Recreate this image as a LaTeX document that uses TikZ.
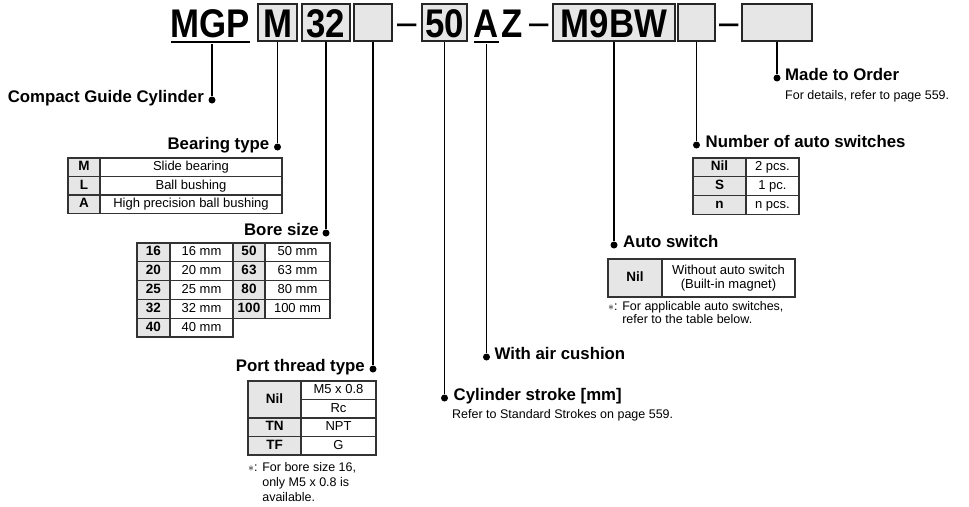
\documentclass[tikz,border=0pt]{standalone}
\usepackage{fontspec}
\setmainfont{Liberation Sans}
\newfontfamily\titlefont[FakeStretch=0.87]{Liberation Sans Bold}
\newfontfamily\dashfont[FakeStretch=0.87]{Liberation Sans}
\definecolor{cellgray}{HTML}{E6E6E6}
\tikzset{
  code/.style={font=\titlefont\fontsize{40}{40}\selectfont, inner sep=0pt, minimum height=37, text height=29, text depth=0pt},
  codebox/.style={code, draw=black!85, line width=1.6, fill=cellgray},
  sepdash/.style={font=\dashfont\fontsize{40}{40}\selectfont, inner sep=0pt, minimum height=37, text height=29, text depth=0pt},
  head/.style={font=\bfseries\fontsize{16.8}{18}\selectfont, inner sep=0pt},
  note/.style={font=\fontsize{12.5}{15}\selectfont, inner sep=0pt, align=left},
  kcell/.style={draw=black!80, line width=1.2, fill=cellgray, inner sep=0pt, text height=9.5, text depth=2.5, font=\bfseries\fontsize{13.5}{15}\selectfont},
  vcell/.style={draw=black!80, line width=1.2, fill=white, inner sep=0pt, text height=9.5, text depth=2.5, font=\fontsize{13}{15}\selectfont},
  lead/.style={line width=1.5},
  tip/.style={circle, fill=black, inner sep=0pt, minimum size=7},
}
\begin{document}
\begin{tikzpicture}[x=1pt,y=-1pt]
    \useasboundingbox (0,0) rectangle (969,506);

    % model code
    \node[code] (mgp) at (210.5,22.5) {MGP};
    \node[codebox, minimum width=39] (bear) at (277.5,22.5) {M};
    \node[codebox, minimum width=48] (bore) at (326,22.5) {32};
    \node[codebox, minimum width=38] (port) at (373,22.5) {};
    \node[sepdash] (d1) at (407.5,21) {–};
    \node[codebox, minimum width=45] (stroke) at (444.5,22.5) {50};
    \node[code] (cush) at (486.5,22.5) {A};
    \node[code] (zz) at (512.5,22.5) {Z};
    \node[sepdash] (d2) at (539.5,21) {–};
    \node[codebox, minimum width=122] (sw) at (614,22.5) {M9BW};
    \node[codebox, minimum width=37] (num) at (696.5,22.5) {};
    \node[sepdash] (d3) at (729.5,21) {–};
    \node[codebox, minimum width=70] (mto) at (777,22.5) {};
    \draw[line width=1.5] ([yshift=-5]mgp.base west) -- ([yshift=-5]mgp.base east);
    \draw[line width=1.5] ([yshift=-5]cush.base west) -- ([yshift=-5]cush.base east);

    % leader dots
    \node[tip] (cgcdot) at (212,100) {};
    \node[tip] (beardot) at (bear.south |- 0,147) {};
    \node[tip] (boredot) at (bore.south |- 0,233) {};
    \node[tip] (portdot) at (port.south |- 0,369) {};
    \node[tip] (strokedot) at (stroke.south |- 0,398) {};
    \node[tip] (cushdot) at (cush.south |- 0,357) {};
    \node[tip] (swdot) at (sw.south |- 0,245) {};
    \node[tip] (numdot) at (num.south |- 0,145) {};
    \node[tip] (mtodot) at (mto.south |- 0,78) {};

    \draw[lead] (mgp.south -| cgcdot) ++(0,3) -- (cgcdot);
    \draw[lead] (bear.south) -- (beardot);
    \draw[lead] (bore.south) -- (boredot);
    \draw[lead] (port.south) -- (portdot);
    \draw[lead] (stroke.south) -- (strokedot);
    \draw[lead] (cush.south) ++(0,3) -- (cushdot);
    \draw[lead] (sw.south) -- (swdot);
    \draw[lead] (num.south) -- (numdot);
    \draw[lead] (mto.south) -- (mtodot);

    % headings
    \node[head, anchor=mid east] (cgcl) at ([xshift=-8]cgcdot.center) {Compact Guide Cylinder};
    \node[head, anchor=mid east] (bearl) at ([xshift=-8]beardot.center) {Bearing type};
    \node[head, anchor=mid east] (borel) at ([xshift=-7]boredot.center) {Bore size};
    \node[head, anchor=mid east] (portl) at ([xshift=-8]portdot.center) {Port thread type};
    \node[head, anchor=mid west] (strokel) at ([xshift=9]strokedot.center) {Cylinder stroke [mm]};
    \node[head, anchor=mid west] (cushl) at ([xshift=8]cushdot.center) {With air cushion};
    \node[head, anchor=mid west] (swl) at ([xshift=9]swdot.center) {Auto switch};
    \node[head, anchor=mid west] (numl) at ([xshift=9]numdot.center) {Number of auto switches};
    \node[head, anchor=mid west] (mtol) at ([xshift=8]mtodot.center) {Made to Order};
    \node[note, anchor=base west] (strokesub) at (452,418) {Refer to Standard Strokes on page 559.};
    \node[note, anchor=base west] (mtosub) at (785,99) {For details, refer to page 559.};

    % bearing type
    \foreach \k/\v [count=\i] in {M/Slide bearing, L/Ball bushing, A/High precision ball bushing}
    {
      \node[kcell, minimum width=32, minimum height=18.5] (bk\i) at (84,148.75+18.5*\i) {\k};
      \node[vcell, minimum width=182, minimum height=18.5] (bv\i) at (191,148.75+18.5*\i) {\v};
    }

    % bore size
    \foreach \k [count=\i] in {16,20,25,32,40}
    {
      \node[kcell, minimum width=33, minimum height=18.8] (sk\i) at (153.5,233.6+18.8*\i) {\k};
      \node[vcell, minimum width=63, minimum height=18.8] (sv\i) at (201.5,233.6+18.8*\i) {\k\ mm};
    }
    \foreach \k [count=\i] in {50,63,80,100}
    {
      \node[kcell, minimum width=32, minimum height=18.8] (tk\i) at (249,233.6+18.8*\i) {\k};
      \node[vcell, minimum width=65, minimum height=18.8] (tv\i) at (297.5,233.6+18.8*\i) {\k\ mm};
    }

    % port thread type
    \node[kcell, minimum width=53, minimum height=37] (pk1) at (274.5,399.5) {Nil};
    \node[vcell, minimum width=75, minimum height=18.5] (pv1) at (338.5,390.25) {M5 x 0.8};
    \node[vcell, minimum width=75, minimum height=18.5] (pv2) at (338.5,408.75) {Rc};
    \node[kcell, minimum width=53, minimum height=18.5] (pk3) at (274.5,427.25) {TN};
    \node[vcell, minimum width=75, minimum height=18.5] (pv3) at (338.5,427.25) {NPT};
    \node[kcell, minimum width=53, minimum height=18.5] (pk4) at (274.5,445.75) {TF};
    \node[vcell, minimum width=75, minimum height=18.5] (pv4) at (338.5,445.75) {G};
    \node[note, anchor=north west] (portnote) at (248,462) {$\ast$: For bore size 16,\\\hphantom{$\ast$: }only M5 x 0.8 is\\\hphantom{$\ast$: }available.};

    % auto switch
    \node[kcell, minimum width=54, minimum height=38] (ak1) at (635,278) {Nil};
    \node[draw=black!80, line width=1.2, inner sep=0pt, minimum width=133, minimum height=38, align=center, font=\fontsize{13}{13.5}\selectfont] (av1) at (728.5,278) {Without auto switch\\(Built-in magnet)};
    \node[note, anchor=north west, font=\fontsize{12.5}{13}\selectfont] (swnote) at (608,301) {$\ast$: For applicable auto switches,\\\hphantom{$\ast$: }refer to the table below.};

    % number of auto switches
    \foreach \k/\v [count=\i] in {Nil/2 pcs., S/1 pc., n/n pcs.}
    {
      \node[kcell, minimum width=53, minimum height=18.7] (nk\i) at (719.5,148.65+18.7*\i) {\k};
      \node[vcell, minimum width=53, minimum height=18.7] (nv\i) at (772.5,148.65+18.7*\i) {\v};
    }

\end{tikzpicture}
\end{document}
